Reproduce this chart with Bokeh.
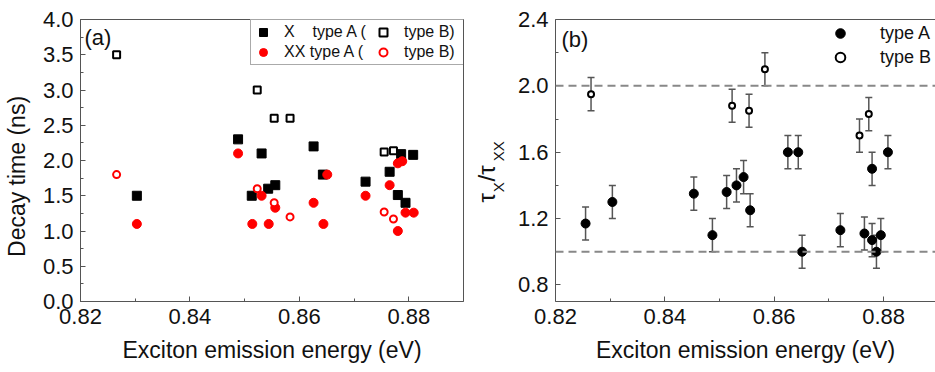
from bokeh.plotting import figure
from bokeh.models import (ColumnDataSource, FixedTicker, PrintfTickFormatter, Legend, LegendItem,
                          Label, Span, Whisker, TeeHead, LinearAxis, Range1d)
from bokeh.layouts import row
from bokeh.embed import file_html
from bokeh.resources import INLINE

FONT = "Liberation Sans"
TXT = "#111111"
AX = "#555555"
NB = "\u00a0"

# ---------------- data: panel (a) ----------------
x_XA = [0.8303, 0.8488, 0.8513, 0.8531, 0.8543, 0.8556, 0.8626, 0.8643, 0.8721, 0.8765, 0.8780, 0.8786, 0.8794, 0.8808]
tau_XA = [1.50, 2.30, 1.50, 2.10, 1.60, 1.65, 2.20, 1.80, 1.70, 1.84, 1.51, 2.09, 1.40, 2.08]

x_XB = [0.8266, 0.8523, 0.8554, 0.8583, 0.8755, 0.8772]
tau_XB = [3.50, 3.00, 2.60, 2.60, 2.12, 2.14]

x_XXA = [0.8303, 0.8488, 0.8514, 0.8531, 0.8544, 0.8556, 0.8626, 0.8644, 0.8651, 0.8721, 0.8765, 0.8780, 0.8780, 0.8788, 0.8794, 0.8809]
tau_XXA = [1.10, 2.10, 1.10, 1.50, 1.10, 1.33, 1.40, 1.10, 1.80, 1.50, 1.65, 1.00, 1.96, 1.99, 1.26, 1.26]

x_XXB = [0.8266, 0.8523, 0.8554, 0.8583, 0.8755, 0.8772]
tau_XXB = [1.80, 1.60, 1.40, 1.20, 1.27, 1.17]

# ---------------- data: panel (b) ----------------
x_RA = [0.8255, 0.8304, 0.8453, 0.8487, 0.8513, 0.8531, 0.8544, 0.8556, 0.8625, 0.8644, 0.8651, 0.8721, 0.8765, 0.8779, 0.8779, 0.8787, 0.8795, 0.8808]
ratio_A = [1.17, 1.30, 1.35, 1.10, 1.36, 1.40, 1.45, 1.25, 1.60, 1.60, 1.00, 1.13, 1.11, 1.50, 1.07, 1.00, 1.10, 1.60]

x_RB = [0.8265, 0.8523, 0.8554, 0.8583, 0.8756, 0.8773]
ratio_B = [1.95, 1.88, 1.85, 2.10, 1.70, 1.83]

ratio_err = 0.1
ratio_refs = [1.0, 2.0]

# ---------------- ticks ----------------
x_ticks = [0.82, 0.84, 0.86, 0.88]
x_minor = [0.83, 0.85, 0.87]
ya_ticks = [0.0, 0.5, 1.0, 1.5, 2.0, 2.5, 3.0, 3.5, 4.0]
ya_minor = [0.25, 0.75, 1.25, 1.75, 2.25, 2.75, 3.25, 3.75]
yb_ticks = [0.8, 1.2, 1.6, 2.0, 2.4]
yb_minor = [1.0, 1.4, 1.8, 2.2]


def style_axis(ax, fmt):
    ax.axis_line_color = AX
    ax.major_tick_line_color = AX
    ax.minor_tick_line_color = AX
    ax.major_tick_in = 5
    ax.major_tick_out = 0
    ax.minor_tick_in = 3
    ax.minor_tick_out = 0
    ax.major_label_text_font = FONT
    ax.major_label_text_font_size = "22px"
    ax.major_label_text_color = TXT
    ax.major_label_standoff = 7
    ax.axis_label_text_font = FONT
    ax.axis_label_text_font_size = "23px"
    ax.axis_label_text_font_style = "normal"
    ax.axis_label_text_color = TXT
    ax.formatter = PrintfTickFormatter(format=fmt)


# ================= panel (a) =================
p1 = figure(width=469, height=372, x_range=Range1d(0.82, 0.89), y_range=Range1d(0.0, 4.0),
            output_backend="svg", toolbar_location=None,
            min_border_left=79, min_border_right=6, min_border_top=19, min_border_bottom=69)
p1.grid.visible = False
p1.outline_line_color = AX
p1.xaxis.ticker = FixedTicker(ticks=x_ticks, minor_ticks=x_minor)
p1.yaxis.ticker = FixedTicker(ticks=ya_ticks, minor_ticks=ya_minor)
style_axis(p1.xaxis[0], "%.2f")
style_axis(p1.yaxis[0], "%.1f")
p1.xaxis.axis_label = "Exciton emission energy (eV)"
p1.xaxis.axis_label_standoff = 10
p1.yaxis.axis_label = "Decay time (ns)" + NB * 5
p1.yaxis.axis_label_standoff = 10

r_xa = p1.scatter(x_XA, tau_XA, marker="square", size=9, fill_color="black", line_color="black")
r_xb = p1.scatter(x_XB, tau_XB, marker="square", size=7, fill_color="white", line_color="black", line_width=2)
r_xxa = p1.scatter(x_XXA, tau_XXA, marker="circle", size=9, fill_color="red", line_color="red")
r_xxb = p1.scatter(x_XXB, tau_XXB, marker="circle", size=7, fill_color="white", line_color="red", line_width=2)

leg1 = Legend(items=[
    LegendItem(label="X" + NB * 3 + " type A (", renderers=[r_xa]),
    LegendItem(label="XX type A (", renderers=[r_xxa]),
    LegendItem(label="type B)", renderers=[r_xb]),
    LegendItem(label="type B)", renderers=[r_xxb]),
], location=(170, 236), orientation="vertical", nrows=2,
    glyph_width=20, glyph_height=20, label_standoff=11, label_width=89, spacing=0, padding=2,
    border_line_color=AX, border_line_width=1.5, background_fill_color="white",
    label_text_font=FONT, label_text_font_size="16px", label_text_color=TXT, margin=0)
p1.add_layout(leg1)

p1.add_layout(Label(x=4, y=277, x_units="screen", y_units="screen", text="(a)",
                    text_baseline="top", text_font=FONT, text_font_size="22px", text_color=TXT))

# ================= panel (b) =================
p2 = figure(width=466, height=372, x_range=Range1d(0.82, 0.8895), y_range=Range1d(0.7, 2.4),
            output_backend="svg", toolbar_location=None,
            min_border_left=86, min_border_right=0, min_border_top=19, min_border_bottom=71)
p2.grid.visible = False
p2.outline_line_color = None
p2.xaxis.ticker = FixedTicker(ticks=x_ticks, minor_ticks=x_minor)
p2.yaxis.ticker = FixedTicker(ticks=yb_ticks, minor_ticks=yb_minor)
style_axis(p2.xaxis[0], "%.2f")
style_axis(p2.yaxis[0], "%.1f")
p2.xaxis.axis_label = "Exciton emission energy (eV)"
p2.xaxis.axis_label_standoff = 10
# subscripts of the y label (inner axis label)
p2.yaxis.axis_label = "X" + NB * 5 + "XX" + NB * 3
p2.yaxis.axis_label_text_font_size = "15px"
p2.yaxis.axis_label_standoff = 8
# main tau characters of the y label (outer axis label, overlapping the inner one)
outer = LinearAxis(ticker=FixedTicker(ticks=[]), axis_line_color=None,
                   major_tick_line_color=None, minor_tick_line_color=None,
                   major_tick_in=0, major_tick_out=0, minor_tick_in=0, minor_tick_out=0,
                   major_label_standoff=0, major_label_text_font_size="0px",
                   axis_label="\u03c4" + NB + "\u2009/\u03c4" + NB * 7, axis_label_standoff=-13,
                   axis_label_text_font=FONT, axis_label_text_font_size="24px",
                   axis_label_text_font_style="normal", axis_label_text_color=TXT)
p2.add_layout(outer, "left")
p2.add_layout(LinearAxis(ticker=FixedTicker(ticks=[]), axis_line_color=AX,
                         major_tick_line_color=None, minor_tick_line_color=None,
                         major_label_text_font_size="0px"), "above")

for v in ratio_refs:
    p2.add_layout(Span(location=v, dimension="width", line_color="#888888", line_width=2, line_dash="8 5"))

srcA = ColumnDataSource(dict(x=x_RA, y=ratio_A,
                             lo=[v - ratio_err for v in ratio_A], hi=[v + ratio_err for v in ratio_A]))
srcB = ColumnDataSource(dict(x=x_RB, y=ratio_B,
                             lo=[v - ratio_err for v in ratio_B], hi=[v + ratio_err for v in ratio_B]))
for s in (srcA, srcB):
    p2.add_layout(Whisker(source=s, base="x", lower="lo", upper="hi", line_color="#555555", line_width=1.5,
                          upper_head=TeeHead(size=7, line_color="#555555", line_width=1.5),
                          lower_head=TeeHead(size=7, line_color="#555555", line_width=1.5),
                          level="underlay"))

r_a = p2.scatter("x", "y", source=srcA, marker="circle", size=9, fill_color="black", line_color="black")
r_b = p2.scatter("x", "y", source=srcB, marker="circle", size=6, fill_color="white", line_color="black", line_width=2)

leg2 = Legend(items=[LegendItem(label="type A", renderers=[r_a]), LegendItem(label="type B", renderers=[r_b])],
              location=(273, 232), orientation="vertical",
              glyph_width=24, glyph_height=24, label_standoff=28, spacing=0, padding=0,
              border_line_color=None, background_fill_alpha=0,
              label_text_font=FONT, label_text_font_size="18px", label_text_color=TXT, margin=0)
p2.add_layout(leg2)

p2.add_layout(Label(x=6, y=275, x_units="screen", y_units="screen", text="(b)",
                    text_baseline="top", text_font=FONT, text_font_size="22px", text_color=TXT))

layout = row(p1, p2)
open("out.html", "w").write(file_html(layout, INLINE))
